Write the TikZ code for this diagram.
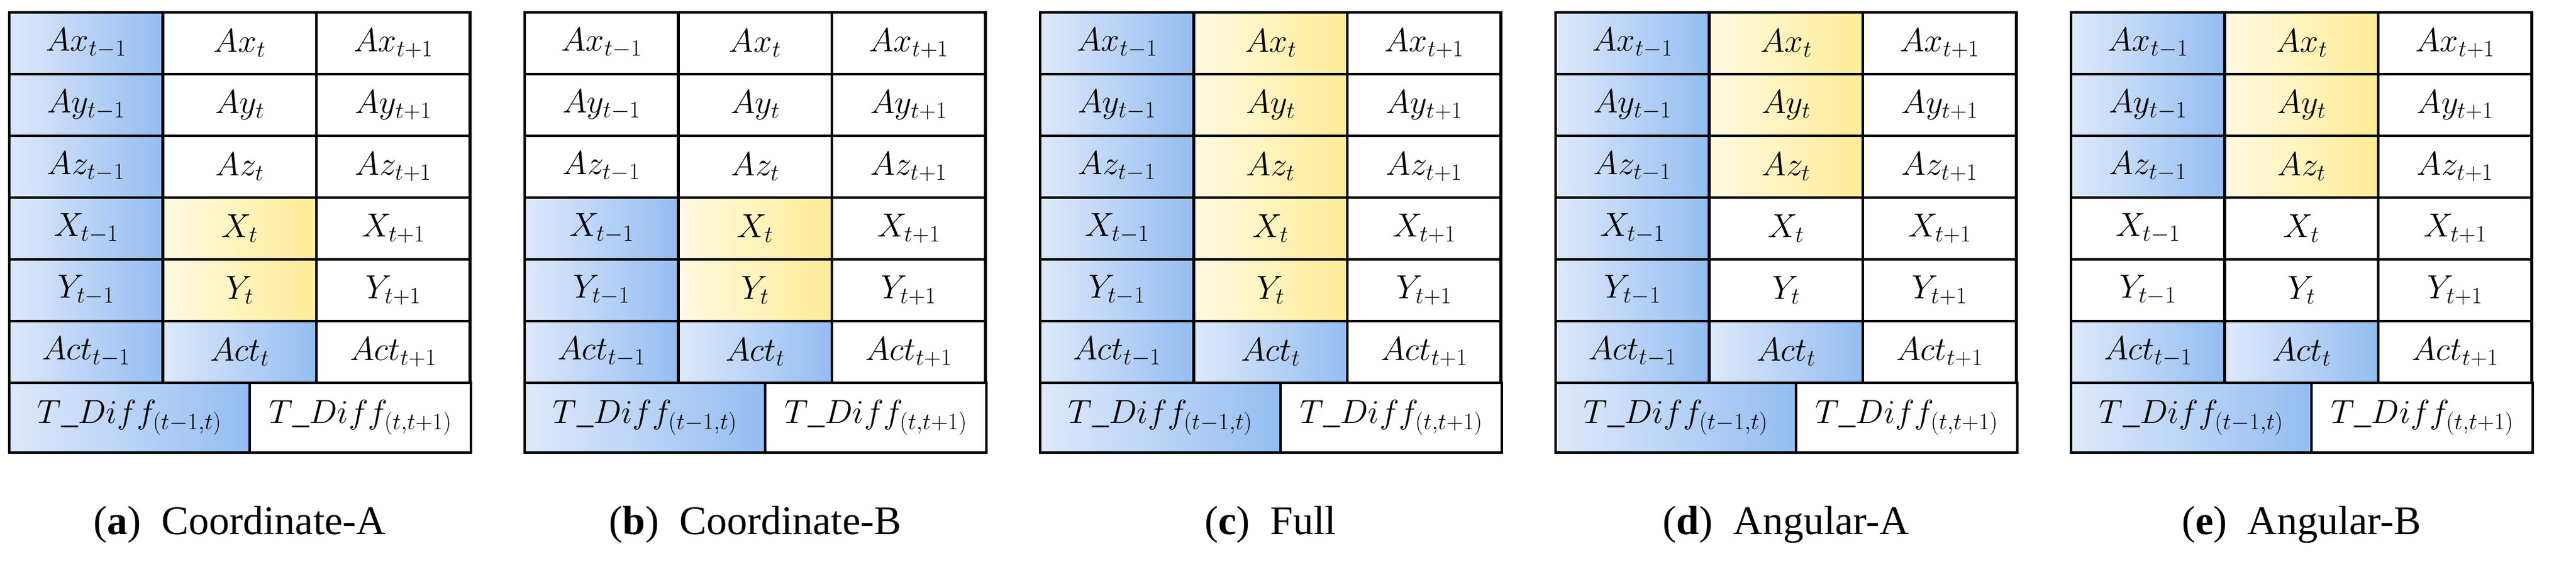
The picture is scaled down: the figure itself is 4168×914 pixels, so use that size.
\RequirePackage{fix-cm}
\documentclass[tikz,border=0pt]{standalone}
\usepackage{fontspec}
\setmainfont{Liberation Serif}
\tikzset{
  cell/.style={draw=black,line width=4.6pt,minimum height=100pt,inner sep=0pt,
    font=\fontsize{54}{60}\selectfont},
  cw/.style={fill=white},
  cb/.style={left color={rgb,255:red,222;green,233;blue,250},right color={rgb,255:red,148;green,189;blue,242}},
  cy/.style={left color={rgb,255:red,255;green,249;blue,225},right color={rgb,255:red,255;green,236;blue,150}},
  captext/.style={font=\fontsize{66}{72}\selectfont}
}
\newcommand\mypanel[5]{%
 \begin{scope}[shift={(#1,0)}]
 \foreach \lab/\ca/\cb/\cc [count=\i] in {#2} {
   \node[cell,c\ca,minimum width=248.5pt] (#3-\i-1) at (124.25,{30-100*\i}) {$\lab_{t-1}$};
   \node[cell,c\cb,minimum width=248.5pt] (#3-\i-2) at (372.75,{30-100*\i}) {$\lab_{t}$};
   \node[cell,c\cc,minimum width=248.5pt] (#3-\i-3) at (621.25,{30-100*\i}) {$\lab_{t+1}$};
 }
 \node[cell,cb,minimum width=389pt,minimum height=113pt] (#3-7-1) at (194.5,-676.5) {$T\_Diff_{(t-1,t)}$};
 \node[cell,cw,minimum width=358pt,minimum height=113pt] (#3-7-2) at (568,-676.5) {$T\_Diff_{(t,t+1)}$};
 \node[captext] (#3-cap) at (373,-850) {(\textbf{#3})\ \ #4};
 \end{scope}}
\begin{document}
\begin{tikzpicture}[x=1pt,y=1pt]
\useasboundingbox (0,0) rectangle (4168,-914);
\mypanel{15}{Ax/b/w/w,Ay/b/w/w,Az/b/w/w,X/b/y/w,Y/b/y/w,Act/b/b/w}{a}{Coordinate-A}{}
\mypanel{849}{Ax/w/w/w,Ay/w/w/w,Az/w/w/w,X/b/y/w,Y/b/y/w,Act/b/b/w}{b}{Coordinate-B}{}
\mypanel{1683}{Ax/b/y/w,Ay/b/y/w,Az/b/y/w,X/b/y/w,Y/b/y/w,Act/b/b/w}{c}{Full}{}
\mypanel{2517}{Ax/b/y/w,Ay/b/y/w,Az/b/y/w,X/b/w/w,Y/b/w/w,Act/b/b/w}{d}{Angular-A}{}
\mypanel{3351}{Ax/b/y/w,Ay/b/y/w,Az/b/y/w,X/w/w/w,Y/w/w/w,Act/b/b/w}{e}{Angular-B}{}
\end{tikzpicture}
\end{document}
